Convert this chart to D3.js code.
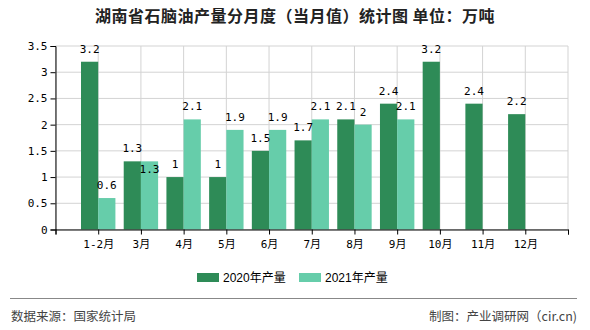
<!DOCTYPE html>
<html><head><meta charset="utf-8">
<script src="https://cdn.jsdelivr.net/npm/d3@7/dist/d3.min.js"></script>
<style>body{margin:0;background:#fff}svg{display:block}</style>
</head><body>
<svg id="c" width="590" height="330"></svg>
<script>
const categories = ["1-2月","3月","4月","5月","6月","7月","8月","9月","10月","11月","12月"];
const values2020 = [3.2,1.3,1,1,1.5,1.7,2.1,2.4,3.2,2.4,2.2];
const values2021 = [0.6,1.3,2.1,1.9,1.9,2.1,2,2.1,null,null,null];
const yTicks = [0,0.5,1,1.5,2,2.5,3,3.5];
const seriesNames = ["2020年产量","2021年产量"];
const colors = ["#2e8b57","#66cdaa"];
const title = "湖南省石脑油产量分月度（当月值）统计图 单位：万吨";
const source = "数据来源：国家统计局";
const credit = "制图：产业调研网（cir.cn)";

const svg = d3.select("#c");
const L = 55.5, R = 568, T = 46, B = 229.5;
const domain = ["__s", ...categories, "__e"];
const x = d3.scalePoint().domain(domain).range([L, R]);
const y = d3.scaleLinear().domain([0, 3.5]).range([B, T]);
const bw = 17.2;
const mono = "'DejaVu Sans Mono','Noto Sans CJK SC',monospace";

// title
svg.append("text").attr("x", 295).attr("y", 22).attr("text-anchor","middle")
  .attr("font-family","'Noto Sans CJK SC',sans-serif").attr("font-size",16).attr("font-weight","bold")
  .attr("fill","#222").attr("letter-spacing","0.5").text(title);

// grid
const g = svg.append("g");
g.selectAll(".hg").data(yTicks).join("line")
  .attr("x1", L).attr("x2", R).attr("y1", d=>y(d)).attr("y2", d=>y(d))
  .attr("stroke","#d3d3d3").attr("stroke-width",1);
g.selectAll(".vg").data(domain).join("line")
  .attr("x1", d=>x(d)).attr("x2", d=>x(d)).attr("y1", T).attr("y2", B)
  .attr("stroke","#d3d3d3").attr("stroke-width",1);

// bars
const data = categories.map((c,i)=>({c, a: values2020[i], b: values2021[i]}));
svg.selectAll(".b1").data(data.filter(d=>d.a!=null)).join("rect")
  .attr("x", d=>x(d.c)-bw).attr("width", bw)
  .attr("y", d=>y(d.a)).attr("height", d=>y(0)-y(d.a)).attr("fill", colors[0]);
svg.selectAll(".b2").data(data.filter(d=>d.b!=null)).join("rect")
  .attr("x", d=>x(d.c)).attr("width", bw)
  .attr("y", d=>y(d.b)).attr("height", d=>y(0)-y(d.b)).attr("fill", colors[1]);

// value labels
const lab = svg.append("g").attr("font-family", mono).attr("font-size", 11).attr("fill","#000").attr("text-anchor","middle");
lab.selectAll(".l1").data(data.filter(d=>d.a!=null)).join("text")
  .attr("x", d=>x(d.c)-bw/2).attr("y", d=>y(d.a)-9).text(d=>d.a);
lab.selectAll(".l2").data(data.filter(d=>d.b!=null)).join("text")
  .attr("x", d=>x(d.c)+bw/2)
  .attr("y", d=> (d.b===d.a) ? y(d.b)+12 : y(d.b)-9).text(d=>d.b);

// axes
const yAxis = d3.axisLeft(y).tickValues(yTicks).tickSize(5).tickFormat(d=>d);
const ya = svg.append("g").attr("transform",`translate(${L},0)`).call(yAxis);
ya.select(".domain").attr("stroke","#000");
ya.selectAll("text").attr("font-family", mono).attr("font-size", 11).attr("fill","#000").attr("x",-8);

const xAxis = d3.axisBottom(x).tickSize(5).tickFormat(d=> d.startsWith("__") ? "" : d);
const xa = svg.append("g").attr("transform",`translate(0,${B})`).call(xAxis);
xa.select(".domain").attr("stroke","#000");
xa.selectAll("text").attr("font-family", mono).attr("font-size", 11).attr("fill","#000").attr("dy","0.95em");

// legend
const lg = svg.append("g").attr("font-family","'Liberation Sans','Noto Sans CJK SC',sans-serif").attr("font-size",12);
const lx = [197, 299];
seriesNames.forEach((n,i)=>{
  lg.append("rect").attr("x", lx[i]).attr("y", 273).attr("width",22).attr("height",9).attr("fill",colors[i]);
  lg.append("text").attr("x", lx[i]+26).attr("y", 282).attr("fill","#000").text(n);
});

// footer
svg.append("line").attr("x1",10).attr("x2",577).attr("y1",298.5).attr("y2",298.5).attr("stroke","#888").attr("stroke-width",1.2);
svg.append("text").attr("x",11).attr("y",321).attr("font-family","'Noto Sans CJK SC',sans-serif").attr("font-size",12.5).attr("fill","#444").text(source);
svg.append("text").attr("x",577).attr("y",321).attr("text-anchor","end").attr("font-family","'Noto Sans CJK SC',sans-serif").attr("font-size",12.5).attr("fill","#444").text(credit);
</script>
</body></html>
